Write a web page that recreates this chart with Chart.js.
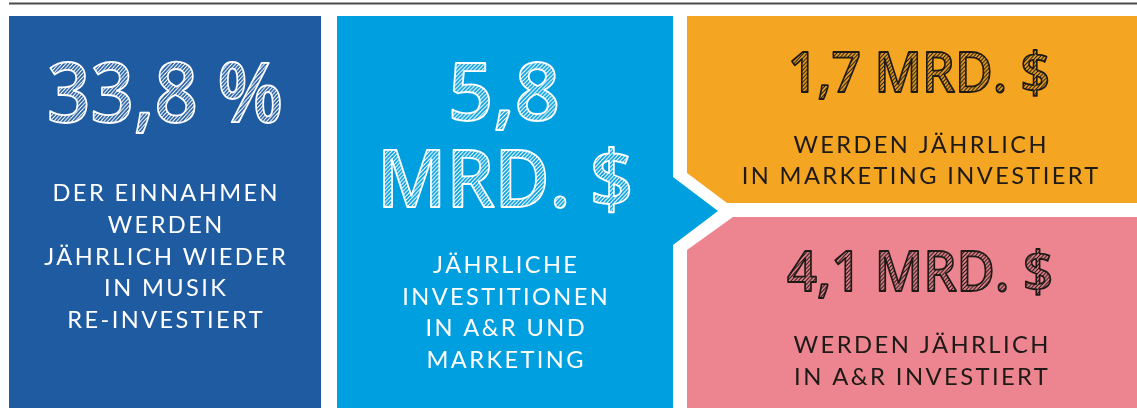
<!DOCTYPE html>
<html>
<head>
<meta charset="utf-8">
<script src="https://cdn.jsdelivr.net/npm/chart.js@4/dist/chart.umd.min.js"></script>
<style>
  html, body { margin: 0; padding: 0; background: #fff; }
  #wrap { width: 1137px; height: 412px; }
</style>
</head>
<body>
<div id="wrap"><canvas id="infoChart" width="1137" height="412"></canvas></div>
<script>
// data
const labels = ['Re-Investition', 'A&R und Marketing', 'Marketing', 'A&R'];
const values = [33.8, 5.8, 1.7, 4.1];
const units = ['%', 'MRD. $', 'MRD. $', 'MRD. $'];
const captions = [
  ['DER EINNAHMEN', 'WERDEN', 'JÄHRLICH WIEDER', 'IN MUSIK', 'RE-INVESTIERT'],
  ['JÄHRLICHE', 'INVESTITIONEN', 'IN A&R UND', 'MARKETING'],
  ['WERDEN JÄHRLICH', 'IN MARKETING INVESTIERT'],
  ['WERDEN JÄHRLICH', 'IN A&R INVESTIERT']
];
const colors = ['#1f5ba1', '#009fe0', '#f4a522', '#ec858f'];
const inks = ['#ffffff', '#ffffff', '#1e1a17', '#1e1a17'];

const fmt = v => v.toLocaleString('de-DE', { minimumFractionDigits: 1, maximumFractionDigits: 1 });

function hatch(ctx, color) {
  const c = document.createElement('canvas');
  c.width = 4; c.height = 4;
  const g = c.getContext('2d');
  g.strokeStyle = color;
  g.lineWidth = 1.2;
  g.beginPath();
  g.moveTo(-1, 5); g.lineTo(5, -1);
  g.moveTo(-1, 1); g.lineTo(1, -1);
  g.moveTo(3, 5); g.lineTo(5, 3);
  g.stroke();
  return ctx.createPattern(c, 'repeat');
}

// sketch-style headline, squeezed to the width it has in the picture
function sketchText(ctx, text, cx, base, size, width, ink) {
  ctx.save();
  ctx.font = '600 ' + size + 'px "Open Sans"';
  ctx.letterSpacing = '0px';
  const w = ctx.measureText(text).width;
  const k = width / w;
  ctx.translate(cx, base);
  ctx.scale(k, 1);
  ctx.textAlign = 'center';
  ctx.textBaseline = 'alphabetic';
  ctx.fillStyle = hatch(ctx, ink);
  ctx.fillText(text, 0, 0);
  ctx.strokeStyle = ink;
  ctx.lineWidth = 1.8;
  ctx.lineJoin = 'round';
  ctx.strokeText(text, 0, 0);
  ctx.restore();
}

function captionLines(ctx, lines, cx, firstBase, step, size, spacing, ink) {
  ctx.save();
  ctx.font = '400 ' + size + 'px Lato';
  ctx.letterSpacing = spacing + 'px';
  ctx.fillStyle = ink;
  ctx.textAlign = 'center';
  ctx.textBaseline = 'alphabetic';
  lines.forEach((t, i) => ctx.fillText(t, cx + spacing / 2, firstBase + i * step));
  ctx.restore();
}

function poly(ctx, pts, color) {
  ctx.beginPath();
  pts.forEach((p, i) => i ? ctx.lineTo(p[0], p[1]) : ctx.moveTo(p[0], p[1]));
  ctx.closePath();
  ctx.fillStyle = color;
  ctx.fill();
}

const infographic = {
  id: 'infographic',
  afterDraw(chart) {
    const ctx = chart.ctx;
    const W = chart.width;
    ctx.save();
    // rule on top
    ctx.strokeStyle = '#4a4a4a';
    ctx.lineWidth = 2;
    ctx.beginPath(); ctx.moveTo(9, 3.5); ctx.lineTo(W, 3.5); ctx.stroke();

    // panels
    poly(ctx, [[9, 16], [321, 16], [321, 408], [9, 408]], colors[0]);
    poly(ctx, [[337, 16], [673, 16], [673, 177], [718, 211], [673, 245], [673, 408], [337, 408]], colors[1]);
    poly(ctx, [[687, 16], [W, 16], [W, 203], [727, 203], [687, 173]], colors[2]);
    poly(ctx, [[733, 217], [W, 217], [W, 408], [687, 408], [687, 250]], colors[3]);

    // headlines
    sketchText(ctx, fmt(values[0]) + ' ' + units[0], 165, 122, 84, 236, inks[0]);
    sketchText(ctx, fmt(values[1]), 504, 120, 80, 112, inks[1]);
    sketchText(ctx, units[1], 505, 207, 80, 256, inks[1]);
    sketchText(ctx, fmt(values[2]) + ' ' + units[2], 919, 92, 56, 262, inks[2]);
    sketchText(ctx, fmt(values[3]) + ' ' + units[3], 920, 291, 56, 266, inks[3]);

    // captions
    captionLines(ctx, captions[0], 165, 201, 31.8, 23.6, 2.4, inks[0]);
    captionLines(ctx, captions[1], 505, 273, 31.7, 23.6, 2.4, inks[1]);
    captionLines(ctx, captions[2], 920, 153, 31, 23.6, 2.4, inks[2]);
    captionLines(ctx, captions[3], 921, 353, 32, 23.8, 2.4, inks[3]);
    ctx.restore();
  }
};

new Chart(document.getElementById('infoChart'), {
  type: 'bar',
  data: {
    labels: labels,
    datasets: [{
      label: 'Investitionen',
      data: values,
      backgroundColor: 'rgba(0,0,0,0)',
      borderWidth: 0
    }]
  },
  options: {
    responsive: false,
    animation: false,
    events: [],
    layout: { padding: 0 },
    scales: {
      x: { display: false },
      y: { display: false, beginAtZero: true }
    },
    plugins: {
      legend: { display: false },
      tooltip: { enabled: false }
    }
  },
  plugins: [infographic]
});
</script>
</body>
</html>
